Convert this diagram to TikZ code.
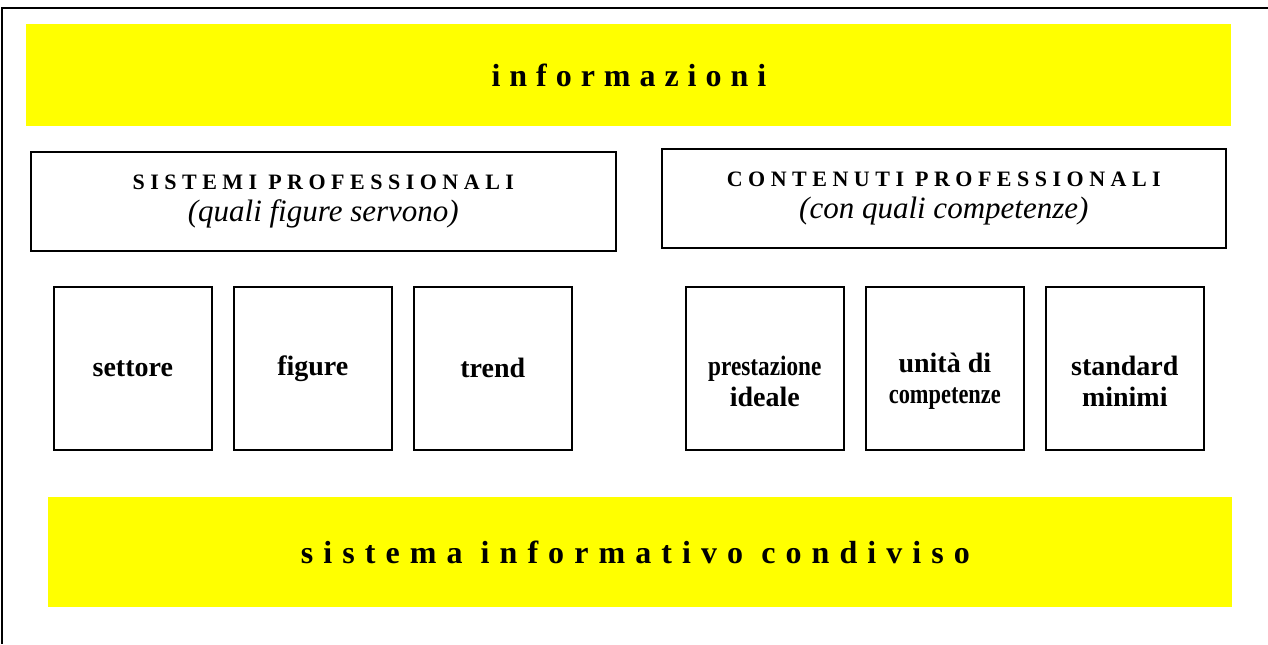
\documentclass[tikz,border=0pt]{standalone}
\usepackage{fontspec}
\setmainfont{Liberation Serif}
\usepackage{graphicx}
\usetikzlibrary{positioning}

\definecolor{barYellow}{RGB}{255,255,0}
\newcommand{\spaced}[2]{{\addfontfeature{LetterSpace=#1}#2}}
\newcommand{\narrow}[2]{\scalebox{#1}[1]{#2}}
\newcommand{\lowered}{\rule{0pt}{23pt}}

\begin{document}
\begin{tikzpicture}[
            x=0.5pt, y=-0.5pt,
            node distance=10.2pt,
            bar/.style={fill=barYellow, inner sep=0pt, font=\bfseries\fontsize{16}{19}\selectfont},
            headbox/.style={draw, line width=0.8pt, minimum height=49.5pt, inner sep=0pt, align=center, font=\fontsize{15.5}{16}\selectfont},
            itembox/.style={draw, line width=0.8pt, minimum width=79pt, minimum height=81.5pt, inner sep=0pt, align=center, font=\bfseries\fontsize{14}{15.5}\selectfont}
        ]
            \useasboundingbox (0,0) rectangle (1268,644);

            % frame
            \draw[line width=1pt] (1268,7.5) -- (2,7.5) -- (2,644);

            % yellow bars
            \node[bar, anchor=north west, minimum width=602.5pt, minimum height=51pt] (info) at (26,24)
                {\spaced{28}{informazioni}};
            \node[bar, anchor=north west, minimum width=592pt, minimum height=55pt] (sic) at (48,497)
                {\hspace*{-5pt}\spaced{31.5}{sistema informativo condiviso}};

            % header boxes
            \node[headbox, anchor=north west, minimum width=292.5pt] (SP) at (30,151)
                {{\bfseries\fontsize{11}{13}\selectfont\spaced{25}{SISTEMI PROFESSIONALI}}\\
                 \itshape (quali figure servono)};
            \node[headbox, anchor=north west, minimum width=282pt] (CP) at (661,148)
                {{\bfseries\fontsize{11}{13}\selectfont\spaced{25}{CONTENUTI PROFESSIONALI}}\\
                 \itshape (con quali competenze)};

            % left item boxes
            \node[itembox, anchor=north west] (S1) at (53,286) {settore};
            \node[itembox, right=of S1] (S2) {figure};
            \node[itembox, right=of S2] (S3) {trend};

            % right item boxes
            \node[itembox, anchor=north west] (C1) at (685,286) {\lowered\narrow{0.83}{prestazione}\\ideale};
            \node[itembox, right=of C1] (C2) {\lowered unità di\\\narrow{0.8}{competenze}};
            \node[itembox, right=of C2] (C3) {\lowered standard\\minimi};
        \end{tikzpicture}
\end{document}
